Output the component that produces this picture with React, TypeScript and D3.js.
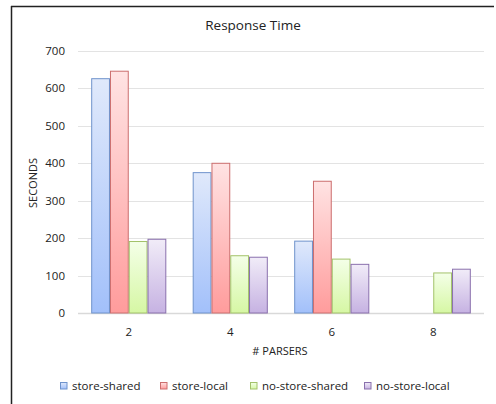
import React from "react";
import * as d3 from "d3";

const categories = ["2", "4", "6", "8"];
const seriesNames = ["store-shared", "store-local", "no-store-shared", "no-store-local"];
const storeShared = [626, 375, 192, null];
const storeLocal = [646, 400, 352, null];
const noStoreShared = [191, 153, 144, 107];
const noStoreLocal = [197, 149, 130, 117];
const yTicks = [0, 100, 200, 300, 400, 500, 600, 700];

const seriesValues = [storeShared, storeLocal, noStoreShared, noStoreLocal];
const fills = [
  { top: "#e0e9fb", bottom: "#a2c0fa", stroke: "#6f93cc" },
  { top: "#ffe3e3", bottom: "#ff9c9c", stroke: "#cc6e6e" },
  { top: "#f4ffe8", bottom: "#d6f7a4", stroke: "#a3c26a" },
  { top: "#f1ecf8", bottom: "#c6b2e2", stroke: "#8a70ad" },
];

export default function App() {
  const W = 496, H = 404;
  const left = 78, right = 484, top = 51, bottom = 313;
  const font = "'Open Sans', 'Liberation Sans', sans-serif";
  const x = d3.scaleBand().domain(categories).range([left, right]);
  const inner = x.bandwidth() * 0.74;
  const x1 = d3.scaleBand().domain(seriesNames).range([0, inner]);
  const y = d3.scaleLinear().domain([0, 700]).range([bottom, top]);

  const legendX = [60, 160, 250, 364];

  return (
    <svg width={W} height={H} style={{ position: "absolute", left: 0, top: 0 }}>
      <defs>
        {fills.map((f, i) => (
          <linearGradient key={i} id={`g${i}`} x1="0" y1="0" x2="0" y2="1">
            <stop offset="0" stopColor={f.top} />
            <stop offset="1" stopColor={f.bottom} />
          </linearGradient>
        ))}
      </defs>
      <rect x={0} y={0} width={W} height={H} fill="#fff" />
      <line x1={11} x2={494} y1={6.5} y2={6.5} stroke="#222" strokeWidth={1.5} />
      <line x1={11.5} x2={11.5} y1={6} y2={H} stroke="#222" strokeWidth={1.5} />
      <text x={253} y={30} textAnchor="middle" fontFamily={font} fontSize={13.5} fill="#222">Response Time</text>
      {yTicks.map((t) => (
        <g key={t}>
          <line x1={left} x2={right} y1={Math.round(y(t)) + 0.5} y2={Math.round(y(t)) + 0.5} stroke={t === 0 ? "#d9d9d9" : "#e3e3e3"} strokeWidth={t === 0 ? 1.5 : 1} />
          <text x={65} y={y(t) + 4} textAnchor="end" fontFamily={font} fontSize={11.5} fill="#222">{t}</text>
        </g>
      ))}
      {categories.map((c, ci) => {
        const gx = (x(c) as number) + (x.bandwidth() - inner) / 2;
        return (
          <g key={c}>
            {seriesValues.map((vals, si) => {
              const v = vals[ci];
              if (v == null) return null;
              const bx = gx + (x1(seriesNames[si]) as number);
              return (
                <rect key={si} x={bx + 0.5} y={y(v)} width={x1.bandwidth() - 1} height={y(0) - y(v)}
                  fill={`url(#g${si})`} stroke={fills[si].stroke} strokeWidth={1} />
              );
            })}
            <text x={(x(c) as number) + x.bandwidth() / 2} y={336} textAnchor="middle" fontFamily={font} fontSize={11.5} fill="#222">{c}</text>
          </g>
        );
      })}
      <text transform={`translate(37,183) rotate(-90)`} textAnchor="middle" fontFamily={font} fontSize={11} fill="#222">SECONDS</text>
      <text x={280} y={355} textAnchor="middle" fontFamily={font} fontSize={11} fill="#222"># PARSERS</text>
      {seriesNames.map((s, i) => (
        <g key={s}>
          <rect x={legendX[i] + 0.5} y={382.5} width={6.5} height={6.5} fill={`url(#g${i})`} stroke={fills[i].stroke} strokeWidth={1} />
          <text x={legendX[i] + 12} y={390} fontFamily={font} fontSize={11.5} fill="#222">{s}</text>
        </g>
      ))}
    </svg>
  );
}
